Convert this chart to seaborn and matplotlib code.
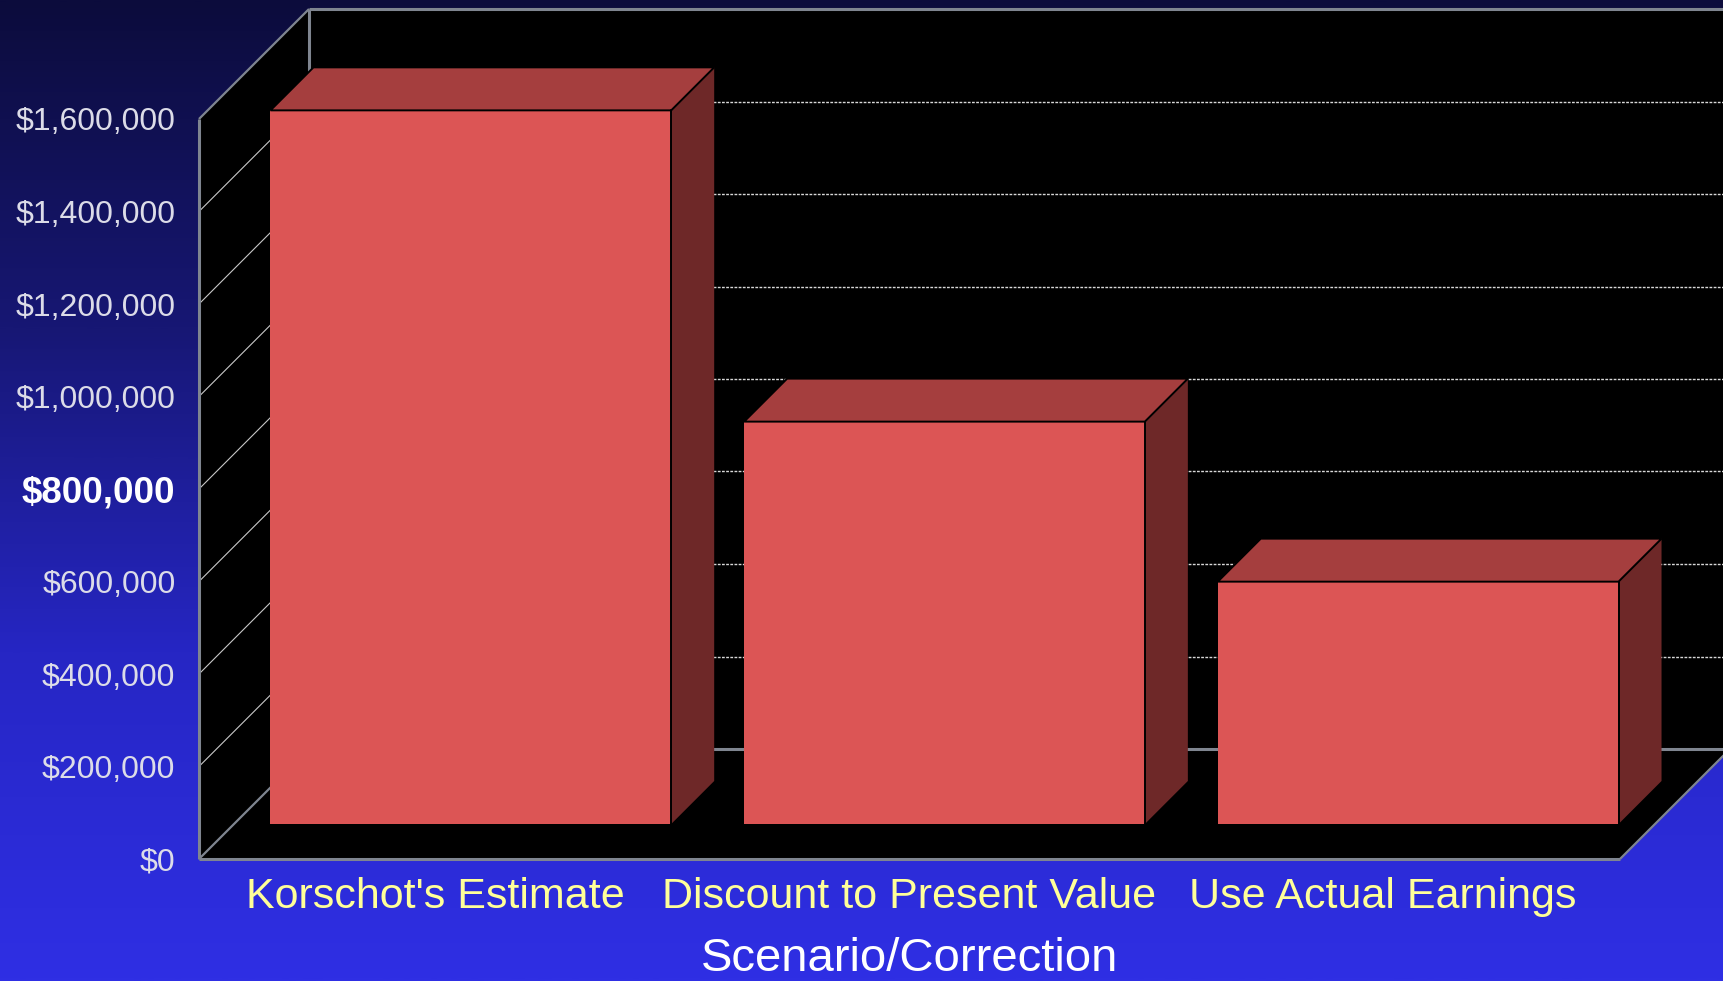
import numpy as np
import pandas as pd
import seaborn as sns
import matplotlib
matplotlib.use("Agg")
import matplotlib.pyplot as plt
from matplotlib.patches import Polygon
from matplotlib.transforms import Affine2D
from matplotlib.colors import LinearSegmentedColormap

# ---------------- data ----------------
categories = ["Korschot's Estimate", "Discount to Present Value", "Use Actual Earnings"]
values = [1543000, 870000, 524000]
tick_values = [0, 200000, 400000, 600000, 800000, 1000000, 1200000, 1400000, 1600000]
tick_labels = ["$0", "$200,000", "$400,000", "$600,000", "$800,000",
               "$1,000,000", "$1,200,000", "$1,400,000", "$1,600,000"]
x_label = "Scenario/Correction"
bold_tick = "$800,000"

# ---------------- style ----------------
sns.set_theme(style="white")
plt.rcParams["font.family"] = ["Liberation Sans", "DejaVu Sans"]

W, H = 1724, 981
fig = plt.figure(figsize=(W / 100, H / 100), dpi=100)

# background gradient
bg = fig.add_axes([0, 0, 1, 1], zorder=-10)
grad = np.linspace(0, 1, 512)[:, None]
cmap = LinearSegmentedColormap.from_list("bg", ["#0c0c3c", "#171774", "#2626c4", "#2f2fe4"])
bg.imshow(grad, aspect="auto", cmap=cmap, extent=[0, 1, 0, 1], origin="upper")
bg.axis("off")

# main axes (front plane)
L, R, B, T = 199, 1620, 859, 119
ax = fig.add_axes([L / W, (H - B) / H, (R - L) / W, (B - T) / H])
ax.set_facecolor("none")

ymax = 1600000
ux = 3.0 / (R - L)
uy = ymax / (B - T)
D = 110          # depth of box in px
F0, F1 = 35, 78  # bar front / back depth offset in px
DX, DY = D * ux, D * uy

df = pd.DataFrame({"cat": categories, "val": values})
sns.barplot(data=df, x="cat", y="val", width=0.846, color="#dc5555",
            saturation=1, edgecolor="none", linewidth=0, ax=ax, zorder=5)
bars = list(ax.patches)

ax.set_xlim(-0.5, 2.5)
ax.set_ylim(0, ymax)

gray = "#7f8590"
# black 3D box
box = Polygon([(-0.5, 0), (-0.5, ymax), (-0.5 + DX, ymax + DY), (2.5 + DX, ymax + DY),
               (2.5 + DX, DY), (2.5, 0)], closed=True, facecolor="black",
              edgecolor="none", zorder=0.5, clip_on=False)
ax.add_patch(box)

# grid lines
for v in tick_values[1:-1]:
    ax.plot([-0.5 + DX, 2.5 + DX], [v + DY, v + DY], color="#d8d8d8", lw=1.0,
            ls=(0, (2, 1)), zorder=1, clip_on=False)
    ax.plot([-0.5, -0.5 + DX], [v, v + DY], color="#c8c8c8", lw=0.8,
            zorder=1, clip_on=False)

# box edges
edges = [
    ([-0.5, -0.5], [0, ymax]),
    ([-0.5, -0.5 + DX], [ymax, ymax + DY]),
    ([-0.5 + DX, 2.5 + DX], [ymax + DY, ymax + DY]),
    ([-0.5 + DX, -0.5 + DX], [DY, ymax + DY]),
    ([-0.5, -0.5 + DX], [0, DY]),
    ([-0.5 + DX, 2.5 + DX], [DY, DY]),
    ([-0.5, 2.5], [0, 0]),
    ([2.5, 2.5 + DX], [0, DY]),
]
for xs, ys in edges:
    lw = 2.2 if xs[0] == xs[1] or ys[0] == ys[1] else 1.6
    ax.plot(xs, ys, color=gray, lw=lw, zorder=1.5, clip_on=False, solid_capstyle="butt")

# 3D bars
f0x, f0y = F0 * ux, F0 * uy
f1x, f1y = F1 * ux, F1 * uy
for p in bars:
    p.set_transform(ax.transData + Affine2D().translate(F0, F0))
    p.set_clip_on(False)
    x0, w, h = p.get_x(), p.get_width(), p.get_height()
    top = Polygon([(x0 + f0x, h + f0y), (x0 + w + f0x, h + f0y),
                   (x0 + w + f1x, h + f1y), (x0 + f1x, h + f1y)], closed=True,
                  facecolor="#a53e3e", edgecolor="black", lw=1.4, zorder=6,
                  clip_on=False, joinstyle="miter")
    side = Polygon([(x0 + w + f0x, f0y), (x0 + w + f0x, h + f0y),
                    (x0 + w + f1x, h + f1y), (x0 + w + f1x, f1y)], closed=True,
                   facecolor="#6e2828", edgecolor="none", zorder=5.5, clip_on=False)
    ax.add_patch(side)
    ax.add_patch(top)
    ax.plot([x0 + w + f0x, x0 + w + f0x], [f0y, h + f0y], color="black", lw=1.4,
            zorder=6.5, clip_on=False)

# axes cosmetics
for s in ax.spines.values():
    s.set_visible(False)
ax.set_yticks(tick_values)
ax.set_yticklabels(tick_labels)
ax.tick_params(axis="y", length=0, pad=17, labelsize=23, labelcolor="#dcdce8")
for lab in ax.get_yticklabels():
    if lab.get_text() == bold_tick:
        lab.set_fontweight("bold")
        lab.set_color("white")
        lab.set_fontsize(26.5)
ax.set_xticks(range(len(categories)))
ax.set_xticklabels(categories)
ax.tick_params(axis="x", length=0, pad=13, labelsize=31, labelcolor="#ffff99")
ax.set_xlabel(x_label, fontsize=34, color="white")
ax.xaxis.label.set_va("baseline")
ax.xaxis.set_label_coords(0.5, -(971 - B) / (B - T))
ax.set_ylabel("")
ax.grid(False)

fig.savefig("out.png", dpi=100)
